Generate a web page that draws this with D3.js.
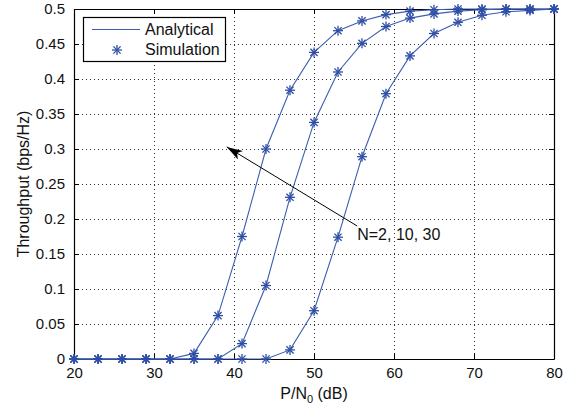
<!DOCTYPE html>
<html><head><meta charset="utf-8">
<script src="https://cdn.jsdelivr.net/npm/d3@7"></script>
<style>
html,body{margin:0;padding:0;background:#fff;}
svg{display:block;font-family:"Liberation Sans",Arial,Helvetica,sans-serif;}
</style></head>
<body><svg id="c" width="568" height="406"></svg>
<script>
const snr = [20,23,26,29,32,35,38,41,44,47,50,53,56,59,62,65,68,71,74,77,80];
const thrN2  = [0,0,0,0,0,0.008,0.062,0.175,0.300,0.384,0.438,0.469,0.483,0.492,0.497,0.499,0.5,0.5,0.5,0.5,0.5];
const thrN10 = [0,0,0,0,0,0,0,0.022,0.105,0.231,0.338,0.410,0.451,0.475,0.487,0.493,0.497,0.499,0.5,0.5,0.5];
const thrN30 = [0,0,0,0,0,0,0,0,0,0.013,0.069,0.174,0.289,0.379,0.433,0.465,0.481,0.491,0.496,0.498,0.5];
const xTicks = [20,30,40,50,60,70,80];
const yTicks = [0,0.05,0.1,0.15,0.2,0.25,0.3,0.35,0.4,0.45,0.5];
const legendLabels = ["Analytical","Simulation"];
const annotText = "N=2, 10, 30";
const arrowFrom = [55.4, 0.19];
const arrowTo = [39.1, 0.303];

const svg = d3.select("#c");
const L=74, R=554, T=9, B=359;
const x = d3.scaleLinear().domain([20,80]).range([L,R]);
const y = d3.scaleLinear().domain([0,0.5]).range([B,T]);
const lineCol = "#3d5db0", markCol = "#2e4ea6";

// grid
const g = svg.append("g");
g.selectAll(".vg").data(xTicks.slice(1,-1)).enter().append("line")
  .attr("x1",d=>x(d)+0.5).attr("x2",d=>x(d)+0.5).attr("y1",T).attr("y2",B)
  .attr("stroke","#333").attr("stroke-width",1).attr("stroke-dasharray","1,3");
g.selectAll(".hg").data(yTicks.slice(1,-1)).enter().append("line")
  .attr("y1",d=>Math.round(y(d))+0.5).attr("y2",d=>Math.round(y(d))+0.5).attr("x1",L).attr("x2",R)
  .attr("stroke","#333").attr("stroke-width",1).attr("stroke-dasharray","1,3");

// axes
const fmtY = d=> d===0?"0":String(d);
const xAxB = d3.axisBottom(x).tickValues(xTicks).tickSizeInner(-5).tickSizeOuter(0).tickPadding(8);
const xAxT = d3.axisTop(x).tickValues(xTicks).tickSizeInner(-5).tickSizeOuter(0).tickFormat("");
const yAxL = d3.axisLeft(y).tickValues(yTicks).tickSizeInner(-5).tickSizeOuter(0).tickPadding(9).tickFormat(fmtY);
const yAxR = d3.axisRight(y).tickValues(yTicks).tickSizeInner(-5).tickSizeOuter(0).tickFormat("");
function style(sel){
  sel.selectAll("path").attr("stroke","#000").attr("stroke-width",1.2);
  sel.selectAll("line").attr("stroke","#000");
  sel.selectAll("text").attr("fill","#111").style("font-size","15px").style("font-family","Liberation Sans, Arial, sans-serif");
}
svg.append("g").attr("transform",`translate(0,${B})`).call(xAxB).call(style);
svg.append("g").attr("transform",`translate(0,${T})`).call(xAxT).call(style);
svg.append("g").attr("transform",`translate(${L},0)`).call(yAxL).call(style);
svg.append("g").attr("transform",`translate(${R},0)`).call(yAxR).call(style);

// curves
const series = [thrN2, thrN10, thrN30];
const line = d3.line().x((d,i)=>x(snr[i])).y(d=>y(d));
function star(sel, r){
  const r2 = r*0.72;
  sel.append("line").attr("x1",-r).attr("x2",r).attr("y1",0).attr("y2",0);
  sel.append("line").attr("x1",0).attr("x2",0).attr("y1",-r).attr("y2",r);
  sel.append("line").attr("x1",-r2).attr("x2",r2).attr("y1",-r2).attr("y2",r2);
  sel.append("line").attr("x1",-r2).attr("x2",r2).attr("y1",r2).attr("y2",-r2);
}
series.forEach(s=>{
  svg.append("path").datum(s).attr("d",line).attr("fill","none").attr("stroke",lineCol).attr("stroke-width",1.1);
});
series.forEach(s=>{
  const m = svg.append("g").selectAll("g").data(s).enter().append("g")
    .attr("transform",(d,i)=>`translate(${x(snr[i])},${y(d)})`)
    .attr("stroke",markCol).attr("stroke-width",1.3);
  m.each(function(){ star(d3.select(this),5); });
});

// arrow
svg.append("defs").append("marker").attr("id","ah").attr("viewBox","0 0 16 10")
  .attr("refX",16).attr("refY",5).attr("markerWidth",16).attr("markerHeight",10)
  .attr("markerUnits","userSpaceOnUse").attr("orient","auto")
  .append("path").attr("d","M0,0 L16,5 L0,10 L4,5 Z").attr("fill","#000");
svg.append("line").attr("x1",x(arrowFrom[0])).attr("y1",y(arrowFrom[1]))
  .attr("x2",x(arrowTo[0])).attr("y2",y(arrowTo[1]))
  .attr("stroke","#000").attr("stroke-width",1).attr("marker-end","url(#ah)");
svg.append("text").attr("x",x(arrowFrom[0])).attr("y",y(arrowFrom[1])+14)
  .text(annotText).attr("fill","#111").style("font-size","16px");

// axis labels
const xl = svg.append("text").attr("x",(L+R)/2).attr("y",399).attr("text-anchor","middle")
  .attr("fill","#111").style("font-size","16px");
xl.append("tspan").text("P/N");
xl.append("tspan").text("0").attr("dy",4).style("font-size","11px");
xl.append("tspan").text(" (dB)").attr("dy",-4);
svg.append("text").attr("transform",`translate(29,${(T+B)/2}) rotate(-90)`).attr("text-anchor","middle")
  .attr("fill","#111").style("font-size","16px").text("Throughput (bps/Hz)");

// legend
const lg = svg.append("g");
lg.append("rect").attr("x",83.5).attr("y",17.5).attr("width",142).attr("height",44)
  .attr("fill","#fff").attr("stroke","#000").attr("stroke-width",1.2);
lg.append("line").attr("x1",92).attr("x2",140).attr("y1",29.5).attr("y2",29.5).attr("stroke",lineCol).attr("stroke-width",1.1);
const lm = lg.append("g").attr("transform","translate(117,50)").attr("stroke",markCol).attr("stroke-width",1.3);
star(lm,5);
lg.selectAll("text").data(legendLabels).enter().append("text")
  .attr("x",145).attr("y",(d,i)=>35+i*20).text(d=>d).attr("fill","#111").style("font-size","16px");
</script></body></html>
